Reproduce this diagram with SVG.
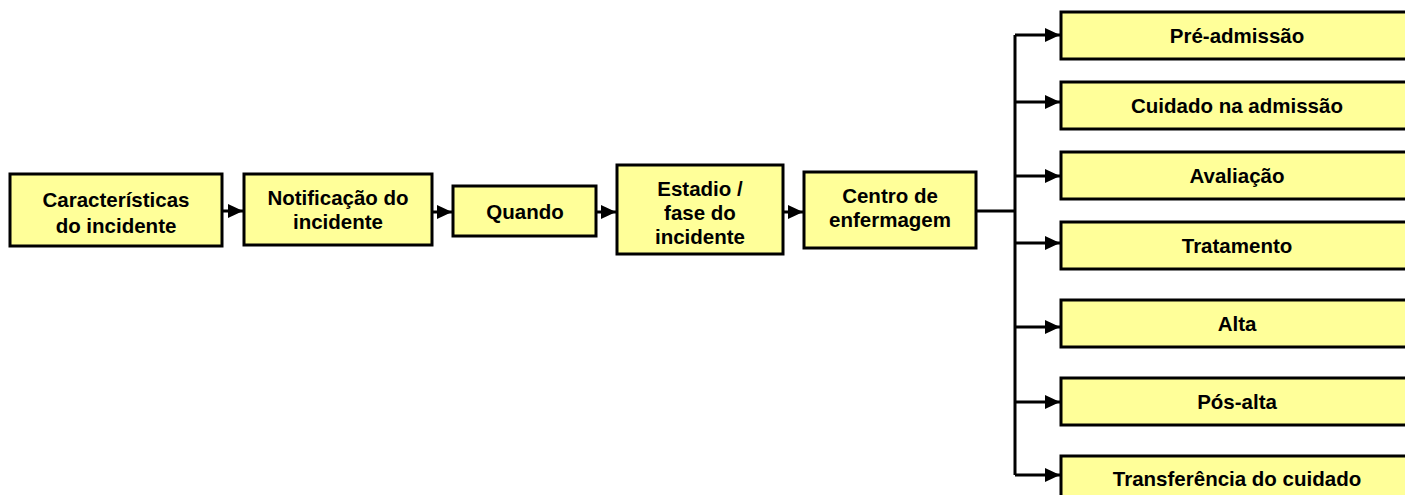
<svg xmlns="http://www.w3.org/2000/svg" width="1405" height="495" viewBox="0 0 1405 495">
<defs>
<style>
.box{fill:#FFFF99;stroke:#000;stroke-width:3}
.t{font-family:"Liberation Sans",Arial,sans-serif;font-weight:bold;font-size:20.5px;fill:#000;text-anchor:middle}
.c{fill:none;stroke:#000;stroke-width:3}
</style>
<marker id="ah" markerUnits="userSpaceOnUse" markerWidth="16" markerHeight="14" refX="15" refY="7" orient="auto">
<path d="M0,0 L15,7 L0,14 Z" fill="#000"/>
</marker>
</defs>
<rect width="1405" height="495" fill="#fff"/>
<g id="connectors">
<path class="c" d="M222,211 H243" marker-end="url(#ah)"/>
<path class="c" d="M433,212 H452" marker-end="url(#ah)"/>
<path class="c" d="M596,212 H616" marker-end="url(#ah)"/>
<path class="c" d="M783,212 H803" marker-end="url(#ah)"/>
<path class="c" d="M976,211 H1015"/>
<path class="c" d="M1015,35 V475"/>
<path class="c" d="M1015,35 H1060" marker-end="url(#ah)"/>
<path class="c" d="M1015,102 H1060" marker-end="url(#ah)"/>
<path class="c" d="M1015,176 H1060" marker-end="url(#ah)"/>
<path class="c" d="M1015,243 H1060" marker-end="url(#ah)"/>
<path class="c" d="M1015,327 H1060" marker-end="url(#ah)"/>
<path class="c" d="M1015,402 H1060" marker-end="url(#ah)"/>
<path class="c" d="M1015,475 H1060" marker-end="url(#ah)"/>
</g>
<g id="n1"><rect class="box" x="10" y="174" width="212" height="72"/><text class="t" x="116" y="207">Características</text><text class="t" x="116" y="233">do incidente</text></g>
<g id="n2"><rect class="box" x="244" y="174" width="188" height="71"/><text class="t" x="338" y="205">Notificação do</text><text class="t" x="338" y="229">incidente</text></g>
<g id="n3"><rect class="box" x="453" y="186" width="143" height="50"/><text class="t" x="525" y="219">Quando</text></g>
<g id="n4"><rect class="box" x="617" y="165" width="166" height="89"/><text class="t" x="700" y="196">Estadio /</text><text class="t" x="700" y="220">fase do</text><text class="t" x="700" y="244">incidente</text></g>
<g id="n5"><rect class="box" x="804" y="172" width="172" height="76"/><text class="t" x="890" y="203">Centro de</text><text class="t" x="890" y="227">enfermagem</text></g>
<g id="n6"><rect class="box" x="1061" y="12" width="352" height="47"/><text class="t" x="1237" y="43">Pré-admissão</text></g>
<g id="n7"><rect class="box" x="1061" y="82" width="352" height="47"/><text class="t" x="1237" y="113">Cuidado na admissão</text></g>
<g id="n8"><rect class="box" x="1061" y="152" width="352" height="47"/><text class="t" x="1237" y="183">Avaliação</text></g>
<g id="n9"><rect class="box" x="1061" y="222" width="352" height="47"/><text class="t" x="1237" y="253">Tratamento</text></g>
<g id="n10"><rect class="box" x="1061" y="300" width="352" height="47"/><text class="t" x="1237" y="331">Alta</text></g>
<g id="n11"><rect class="box" x="1061" y="378" width="352" height="47"/><text class="t" x="1237" y="409">Pós-alta</text></g>
<g id="n12"><rect class="box" x="1061" y="456" width="352" height="47"/><text class="t" x="1237" y="486">Transferência do cuidado</text></g>
</svg>
